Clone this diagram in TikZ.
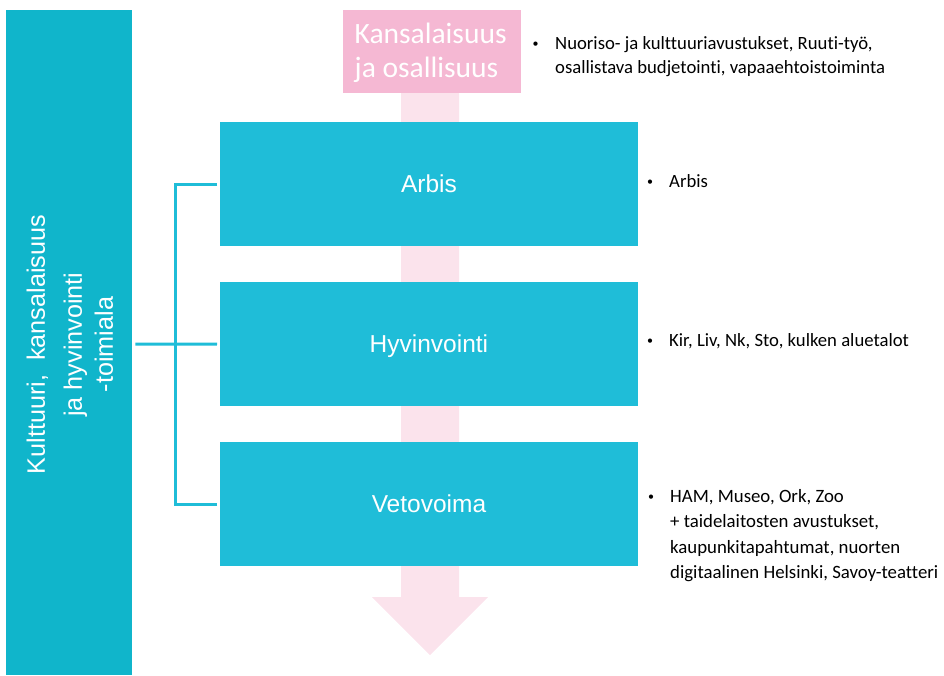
\documentclass[tikz,border=0pt]{standalone}
\usepackage{fontspec}
\setmainfont{Carlito}[Ligatures=NoCommon]
\newfontfamily\arialfont{Liberation Sans}
\definecolor{leftteal}{RGB}{16,181,203}
\definecolor{boxteal}{RGB}{31,189,216}
\definecolor{pinkbox}{RGB}{245,184,211}
\definecolor{pinkarrow}{RGB}{251,227,236}
\newcommand{\listdot}[1]{\makebox[#1][l]{\raisebox{2.2pt}{\fontsize{12}{12}\selectfont •}}}
\begin{document}
\begin{tikzpicture}[x=1pt,y=1pt,
  tealbox/.style={rectangle, fill=boxteal, minimum width=417.5pt, minimum height=124pt,
    inner sep=0pt, anchor=north west, text=white,
    font=\arialfont\fontsize{24.5}{29}\selectfont, text height=17pt, text depth=1pt},
  bullets/.style={anchor=base west, align=left, inner sep=0pt, text=black},
  bracket/.style={draw=boxteal, line width=3pt}]
\useasboundingbox (0,0) rectangle (944,-675);

% flow arrow behind the unit boxes
\fill[pinkarrow] (401,-93) -- (401,-597) -- (372,-597) -- (430,-655)
  -- (488,-597) -- (459,-597) -- (459,-93) -- cycle;

% top box (multi-line nodes sit on the baseline of their last line)
\node[rectangle, fill=pinkbox, minimum width=178pt, minimum height=83.5pt,
  inner sep=0pt, anchor=north west] (kans) at (343,-9.5) {};
\node[anchor=base west, align=left, inner sep=0pt, text=white,
  font=\fontsize{29.5}{34}\selectfont] (kanstext) at (354.5,-77.3)
  {Kansalaisuus\\ja osallisuus};

% division column
\node[rectangle, fill=leftteal, minimum width=126pt, minimum height=665pt,
  inner sep=0pt, anchor=north west] (toimiala) at (6,-10) {};
\node[rotate=90, anchor=north, align=center, inner sep=0pt, text=white,
  font=\arialfont\fontsize{25.2}{31}\selectfont] (toimialatext) at (26.5,-344.5)
  {Kulttuuri,\ \ kansalaisuus\\[6pt]ja hyvinvointi\\-toimiala};

% units
\node[tealbox] (arbis) at (220,-122) {Arbis};
\node[tealbox] (hyv) at (220,-282) {Hyvinvointi};
\node[tealbox] (veto) at (220,-442) {Vetovoima};

% bracket from the division to its units
\coordinate (jn) at (175.5,-344);
\draw[bracket] ([xshift=-3pt]arbis.west) -| (jn);
\draw[bracket] ([xshift=-3pt]veto.west) -| (jn);
\draw[bracket] ([xshift=-3pt]hyv.west) -- (jn) -- ([xshift=3pt]toimiala.east |- jn);

% bullet lists
\node[bullets, font=\fontsize{18.7}{24}\selectfont] (l1) at (532.5,-73.3)
  {\listdot{22.5pt}Nuoriso- ja kulttuuriavustukset, Ruuti-työ,\\
   \hspace*{22.5pt}osallistava budjetointi, vapaaehtoistoiminta};
\node[bullets, font=\fontsize{18.7}{24}\selectfont] (l2) at (647,-187.3)
  {\listdot{22pt}Arbis};
\node[bullets, font=\fontsize{18.7}{24}\selectfont] (l3) at (647,-346.7)
  {\listdot{22pt}Kir, Liv, Nk, Sto, kulken aluetalot};
\node[bullets, font=\fontsize{18.8}{25.2}\selectfont] (l4) at (648,-578.3)
  {\listdot{22pt}HAM, Museo, Ork, Zoo\\
   \hspace*{22pt}+ taidelaitosten avustukset,\\
   \hspace*{22pt}kaupunkitapahtumat, nuorten\\
   \hspace*{22pt}digitaalinen Helsinki, Savoy-teatteri};
\end{tikzpicture}
\end{document}
